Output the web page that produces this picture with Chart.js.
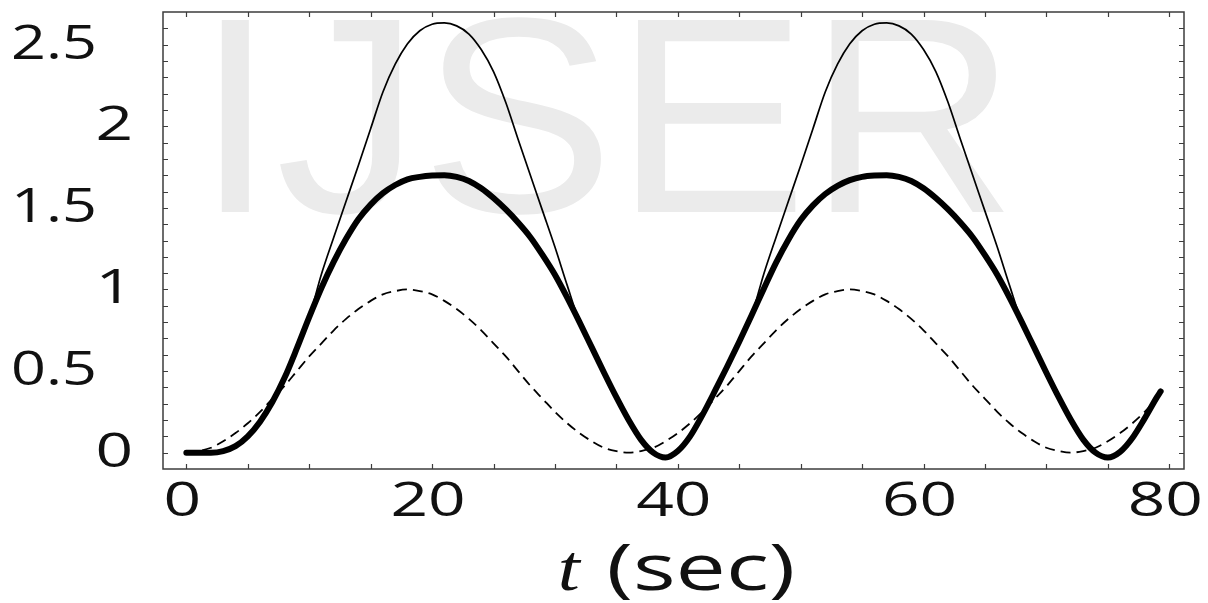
<!DOCTYPE html>
<html>
<head>
<meta charset="utf-8">
<script src="https://cdn.jsdelivr.net/npm/chart.js@4.4.1/dist/chart.umd.min.js"></script>
<style>
html,body{margin:0;padding:0;background:#ffffff;overflow:hidden;}
#c{display:block;}
</style>
</head>
<body>
<canvas id="c" width="1208" height="603" style="width:1208px;height:603px"></canvas>
<script>
// ---- data ----
const timeSec = [0,1,2,3,4,5,6,7,8,9,10,11,12,13,14,15,16,17,18,19,20,21,22,23,24,25,26,27,28,29,30,31,32,33,34,35,36,37,38,39,40,41,42,43,44,45,46,47,48,49,50,51,52,53,54,55,56,57,58,59,60,61,62,63,64,65,66,67,68,69,70,71,72,73,74,75,76,77,78,79,79.3];

// thick solid curve
const thickSeries = [0.00,0.00,0.00,0.01,0.04,0.10,0.19,0.31,0.46,0.64,0.83,1.01,1.17,1.31,1.43,1.52,1.59,1.64,1.675,1.69,1.698,1.70,1.69,1.665,1.62,1.56,1.49,1.41,1.32,1.21,1.09,0.95,0.80,0.645,0.49,0.34,0.20,0.08,0.00,-0.03,0.01,0.10,0.23,0.375,0.525,0.68,0.84,1.005,1.165,1.305,1.425,1.515,1.585,1.635,1.67,1.69,1.698,1.70,1.69,1.665,1.62,1.56,1.49,1.41,1.32,1.21,1.09,0.95,0.80,0.645,0.49,0.34,0.20,0.08,0.00,-0.03,0.005,0.09,0.21,0.34,0.375];

// thin solid curve (coincides with the thick one at low values)
const thinSeries = [0.00,0.00,0.00,0.01,0.04,0.10,0.19,0.31,0.46,0.64,0.83,1.095,1.32,1.54,1.76,1.985,2.21,2.38,2.505,2.585,2.625,2.633,2.615,2.565,2.47,2.335,2.145,1.92,1.70,1.48,1.26,1.025,0.80,0.645,0.49,0.34,0.20,0.08,0.00,-0.03,0.01,0.10,0.23,0.375,0.525,0.68,0.84,1.095,1.32,1.54,1.76,1.985,2.21,2.38,2.505,2.585,2.625,2.633,2.615,2.565,2.47,2.335,2.145,1.92,1.70,1.48,1.26,1.025,0.80,0.645,0.49,0.34,0.20,0.08,0.00,-0.03,0.005,0.09,0.21,0.34,0.375];

// dashed curve
const dashedSeries = [0.00,0.01,0.03,0.07,0.12,0.18,0.25,0.33,0.41,0.50,0.59,0.67,0.75,0.82,0.88,0.93,0.97,0.99,1.00,0.99,0.97,0.93,0.88,0.82,0.75,0.67,0.59,0.50,0.41,0.33,0.25,0.18,0.12,0.07,0.03,0.01,0.00,0.01,0.03,0.07,0.12,0.18,0.25,0.33,0.41,0.50,0.59,0.67,0.75,0.82,0.88,0.93,0.97,0.99,1.00,0.99,0.97,0.93,0.88,0.82,0.75,0.67,0.59,0.50,0.41,0.33,0.25,0.18,0.12,0.07,0.03,0.01,0.00,0.01,0.03,0.07,0.12,0.18,0.25,0.33];

const xTickLabels = [0,20,40,60,80];
const yTickLabels = [0,0.5,1,1.5,2,2.5];
const xTickMarks = [0,5,10,15,20,25,30,35,40,45,50,55,60,65,70,75,80];
const yTickMarks = [0,0.1,0.2,0.3,0.4,0.5,0.6,0.7,0.8,0.9,1,1.1,1.2,1.3,1.4,1.5,1.6,1.7,1.8,1.9,2,2.1,2.2,2.3,2.4,2.5,2.6];
const axisTitleVar = 't';
const axisTitleUnit = '(sec)';
const watermarkText = 'IJSER';

// ---- drawing ----
const SX = 1.4; // horizontal stretch of the reference lettering
const pts = (ys) => ys.map((y, i) => ({x: timeSec[i], y: y}));

function stretchedText(ctx, text, x, y, align, sx) {
  ctx.save();
  ctx.translate(x, y);
  ctx.scale(sx || SX, 1);
  ctx.textAlign = align;
  ctx.fillText(text, 0, 0);
  ctx.restore();
}

const decor = {
  id: 'decor',
  beforeDatasetsDraw(chart) {
    const ctx = chart.ctx;
    ctx.save();
    ctx.fillStyle = '#ebebeb';
    ctx.font = '279px "Liberation Sans"';
    ctx.textBaseline = 'alphabetic';
    stretchedText(ctx, watermarkText, 195, 212, 'left', 1.04);
    ctx.restore();
  },
  afterDatasetsDraw(chart) {
    const ctx = chart.ctx;
    const a = chart.chartArea;
    const xs = chart.scales.x, ys = chart.scales.y;
    ctx.save();
    // frame
    ctx.strokeStyle = '#3c3c3c';
    ctx.lineWidth = 1.5;
    ctx.strokeRect(a.left, a.top, a.right - a.left, a.bottom - a.top);
    // inward ticks
    ctx.lineWidth = 1.2;
    ctx.beginPath();
    xTickMarks.forEach(v => {
      const p = Math.round(xs.getPixelForValue(v)) + 0.5;
      ctx.moveTo(p, a.bottom); ctx.lineTo(p, a.bottom - 5);
      ctx.moveTo(p, a.top); ctx.lineTo(p, a.top + 5);
    });
    yTickMarks.forEach(v => {
      const p = Math.round(ys.getPixelForValue(v)) + 0.5;
      ctx.moveTo(a.left, p); ctx.lineTo(a.left + 5, p);
      ctx.moveTo(a.right, p); ctx.lineTo(a.right - 5, p);
    });
    ctx.stroke();
    // tick labels
    ctx.fillStyle = '#111';
    ctx.font = '47px "Open Sans"';
    ctx.textBaseline = 'alphabetic';
    yTickLabels.forEach(v => {
      const isInt = Number.isInteger(v);
      const right = isInt ? 133 : 97;
      stretchedText(ctx, String(v), right, ys.getPixelForValue(v) + 14, 'right', isInt ? SX : 1.3);
    });
    xTickLabels.forEach(v => {
      stretchedText(ctx, String(v), xs.getPixelForValue(v) - 4, 516, 'center');
    });
    // axis title
    const fT = 'italic 66px "Liberation Serif"';
    const fU = '64px "Open Sans"';
    ctx.font = fT; const wT = ctx.measureText(axisTitleVar + ' ').width * SX;
    ctx.font = fU; const wU = ctx.measureText(axisTitleUnit).width * SX;
    const cx = (a.left + a.right) / 2;
    const x0 = cx - (wT + wU) / 2 + 3;
    ctx.font = fT; stretchedText(ctx, axisTitleVar, x0, 590, 'left', 1.2);
    ctx.font = fU; stretchedText(ctx, axisTitleUnit, x0 + wT, 590, 'left');
    ctx.restore();
  }
};

new Chart(document.getElementById('c'), {
  type: 'line',
  data: {
    datasets: [
      {label: 'thick', data: pts(thickSeries), borderColor: '#000', borderWidth: 6, pointRadius: 0, cubicInterpolationMode: 'monotone', fill: false, borderCapStyle: 'round', borderJoinStyle: 'round'},
      {label: 'thin', data: pts(thinSeries), borderColor: '#000', borderWidth: 1.7, pointRadius: 0, cubicInterpolationMode: 'monotone', fill: false},
      {label: 'dashed', data: pts(dashedSeries), borderColor: '#000', borderWidth: 1.8, borderDash: [10, 6], pointRadius: 0, cubicInterpolationMode: 'monotone', fill: false}
    ]
  },
  options: {
    responsive: false,
    animation: false,
    devicePixelRatio: 1,
    layout: {padding: {left: 163, right: 24, top: 12, bottom: 134}},
    plugins: {legend: {display: false}, tooltip: {enabled: false}},
    scales: {
      x: {type: 'linear', min: -1.9, max: 81.2, display: false},
      y: {type: 'linear', min: -0.1, max: 2.7, display: false}
    }
  },
  plugins: [decor]
});
</script>
</body>
</html>
